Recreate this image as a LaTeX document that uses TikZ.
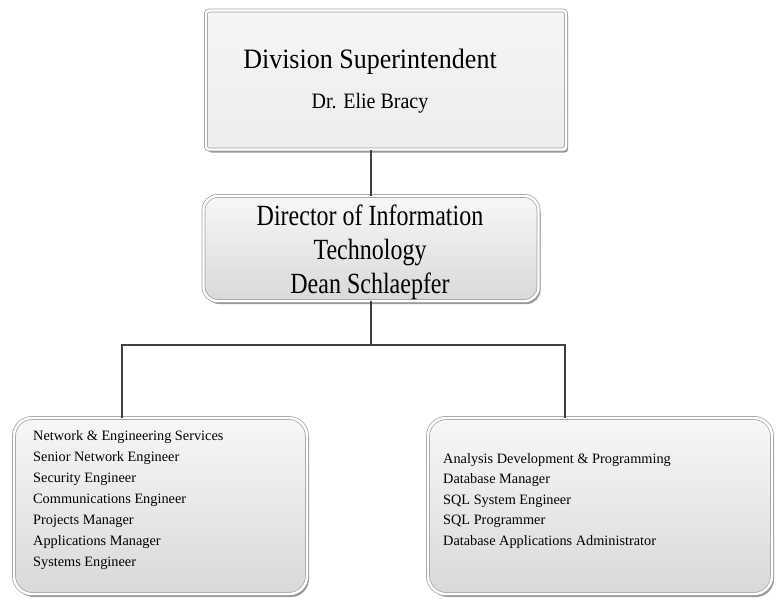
\documentclass[tikz,border=0pt]{standalone}
\usepackage{fontspec}
\usepackage{graphicx}
\setmainfont{Liberation Serif}
\usetikzlibrary{shadows,calc}
\newcommand{\tallish}[1]{\scalebox{1}[1.22]{#1}}
\begin{document}
\begin{tikzpicture}[x=1pt,y=-1pt,
  card/.style={rectangle, inner sep=0pt, draw=gray!75, line width=0.7pt,
    double=white, double distance=2.4pt,
    top color=gray!6, bottom color=gray!30,
    drop shadow={shadow xshift=2pt, shadow yshift=-3pt, opacity=0.4, fill=black}},
  conn/.style={draw=black!75, line width=1.1pt},
  bigtxt/.style={font=\fontsize{26}{30}\selectfont, anchor=base, inner sep=0pt},
  midtxt/.style={font=\fontsize{24}{28}\selectfont, anchor=base, inner sep=0pt},
  nametxt/.style={font=\fontsize{20}{24}\selectfont, anchor=base, inner sep=0pt},
  itemtxt/.style={font=\fontsize{14.3}{17}\selectfont, anchor=base west, inner sep=0pt}]
\useasboundingbox (0,0) rectangle (776,598);
% boxes
\node[card, rounded corners=3pt, top color=gray!8, bottom color=gray!14,
  minimum width=360pt, minimum height=139pt] (top) at (386,80) {};
\node[card, rounded corners=14pt, minimum width=335pt, minimum height=105pt] (dir) at (371,248.5) {};
\node[card, rounded corners=18pt, minimum width=293pt, minimum height=176pt] (left) at (160.5,506) {};
\node[card, rounded corners=18pt, minimum width=344pt, minimum height=176pt] (right) at (600,506) {};
% texts
\node[bigtxt] (t1) at (370,68) {\scalebox{1}[1.08]{Division Superintendent}};
\node[nametxt] (t2) at (370,108) {\scalebox{1}[1.1]{Dr. Elie Bracy}};
\node[midtxt] (d1) at (370,225) {\tallish{Director of Information}};
\node[midtxt] (d2) at (370,259) {\tallish{Technology}};
\node[midtxt] (d3) at (370,293) {\tallish{Dean Schlaepfer}};
\foreach \t [count=\i] in {Network \& Engineering Services, Senior Network Engineer,
  Security Engineer, Communications Engineer, Projects Manager, Applications Manager,
  Systems Engineer}
  \node[itemtxt] (l\i) at (33,{440+21*(\i-1)}) {\t};
\foreach \t [count=\i] in {Analysis Development \& Programming, Database Manager,
  SQL System Engineer, SQL Programmer, Database Applications Administrator}
  \node[itemtxt] (r\i) at (443,{463+20.5*(\i-1)}) {\t};
% connectors
\coordinate (busL) at (122,345);
\coordinate (busR) at (565,345);
\draw[conn] (dir.north) -- (dir.north |- top.south);
\draw[conn] (dir.south) -- (dir.south |- busL);
\draw[conn] (busL |- left.north) -- (busL) -- (busR) -- (busR |- right.north);
\end{tikzpicture}
\end{document}
